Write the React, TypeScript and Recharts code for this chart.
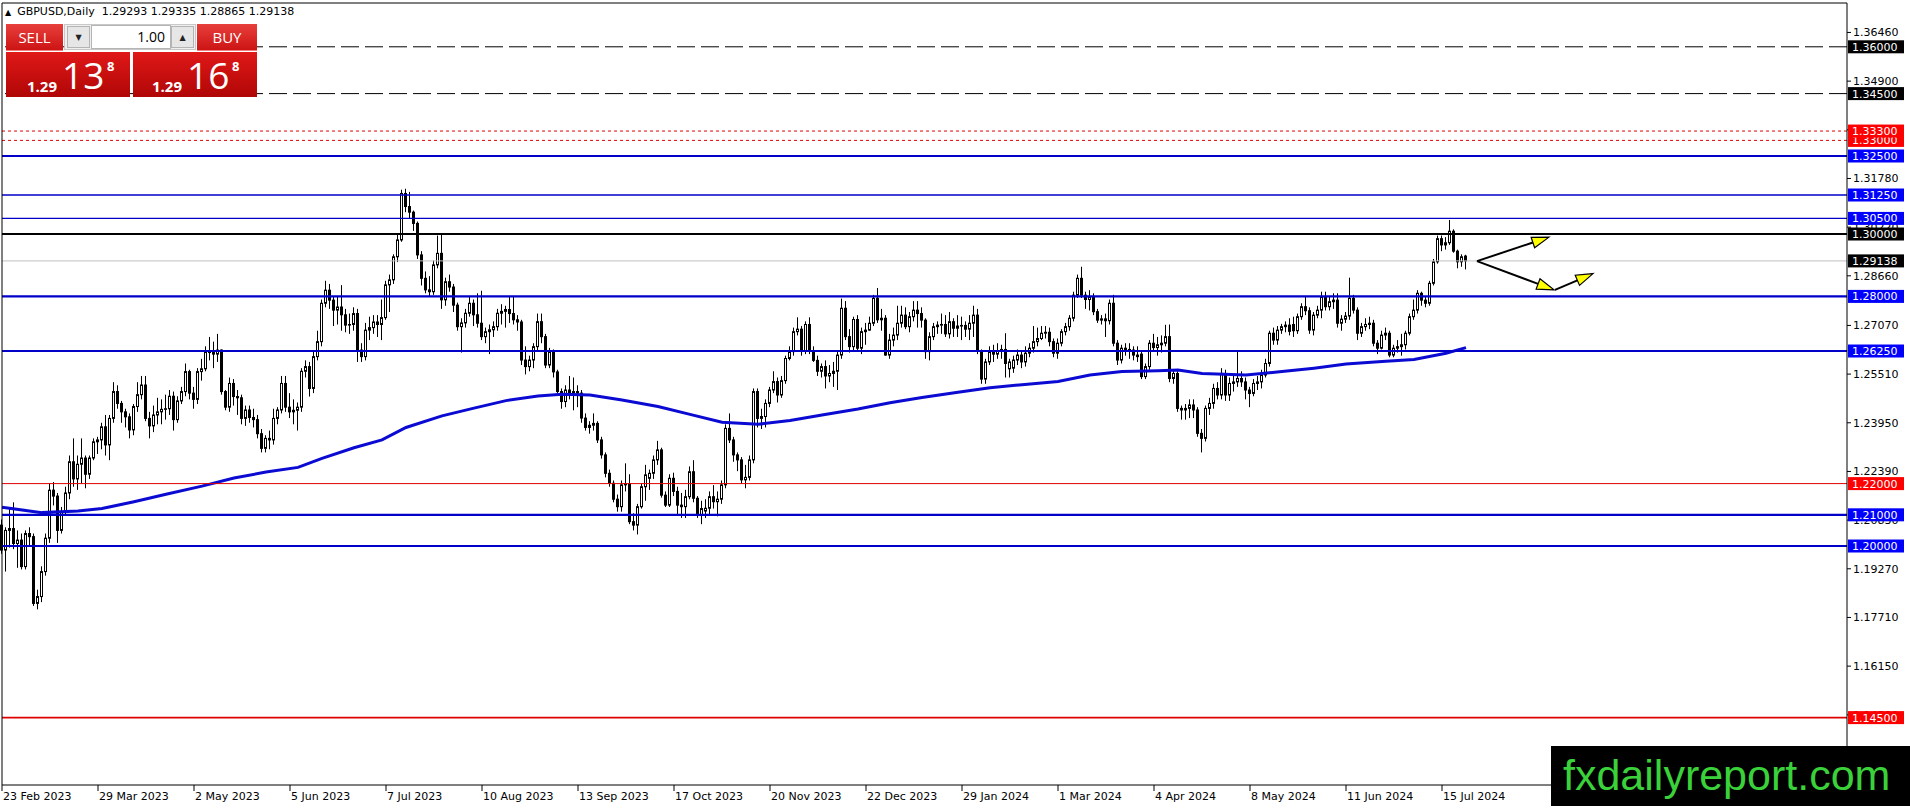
import React from "react";
import { ComposedChart, Bar, Line, XAxis, YAxis, ReferenceLine } from "recharts";

// GBPUSD daily candles, index 0 = 23 Feb 2023, index 366 = 23 Jul 2024
const opens = [
  1.2067, 1.1987, 1.2050, 1.2056, 1.2008, 1.2019, 1.1934, 1.2040, 1.2030, 1.1816,
  1.1838, 1.1918, 1.2025, 1.2179, 1.2160, 1.2050, 1.2110, 1.2170, 1.2270, 1.2215,
  1.2262, 1.2282, 1.2230, 1.2282, 1.2334, 1.2340, 1.2382, 1.2324, 1.2409, 1.2495,
  1.2457, 1.2430, 1.2414, 1.2372, 1.2447, 1.2485, 1.2516, 1.2409, 1.2385, 1.2420,
  1.2430, 1.2438, 1.2440, 1.2480, 1.2405, 1.2465, 1.2495, 1.2559, 1.2490, 1.2470,
  1.2559, 1.2568, 1.2623, 1.2620, 1.2615, 1.2628, 1.2495, 1.2445, 1.2521, 1.2479,
  1.2475, 1.2409, 1.2436, 1.2412, 1.2405, 1.2360, 1.2313, 1.2345, 1.2340, 1.2409,
  1.2436, 1.2521, 1.2445, 1.2430, 1.2435, 1.2445, 1.2560, 1.2575, 1.2505, 1.2607,
  1.2655, 1.2778, 1.2820, 1.2788, 1.2756, 1.2766, 1.2741, 1.2708, 1.2710, 1.2745,
  1.2628, 1.2607, 1.2692, 1.2700, 1.2718, 1.2710, 1.2732, 1.2837, 1.2853, 1.2927,
  1.2981, 1.3130, 1.3088, 1.3070, 1.3034, 1.2933, 1.2858, 1.2821, 1.2815, 1.2901,
  1.2938, 1.2789, 1.2847, 1.2830, 1.2772, 1.2703, 1.2715, 1.2746, 1.2778, 1.2741,
  1.2714, 1.2671, 1.2687, 1.2693, 1.2703, 1.2746, 1.2752, 1.2758, 1.2745, 1.2725,
  1.2718, 1.2596, 1.2575, 1.2596, 1.2639, 1.2719, 1.2671, 1.2580, 1.2622, 1.2558,
  1.2495, 1.2463, 1.2500, 1.2490, 1.2495, 1.2490, 1.2410, 1.2380, 1.2387, 1.2393,
  1.2340, 1.2292, 1.2233, 1.2201, 1.2150, 1.2126, 1.2196, 1.2200, 1.2078, 1.2067,
  1.2126, 1.2190, 1.2217, 1.2233, 1.2276, 1.2308, 1.2163, 1.2131, 1.2217, 1.2175,
  1.2131, 1.2126, 1.2158, 1.2238, 1.2153, 1.2099, 1.2112, 1.2121, 1.2158, 1.2142,
  1.2150, 1.2196, 1.2377, 1.2340, 1.2292, 1.2276, 1.2212, 1.2220, 1.2276, 1.2495,
  1.2409, 1.2415, 1.2457, 1.2500, 1.2527, 1.2484, 1.2530, 1.2601, 1.2623, 1.2687,
  1.2695, 1.2625, 1.2710, 1.2625, 1.2595, 1.2560, 1.2575, 1.2545, 1.2553, 1.2560,
  1.2612, 1.2762, 1.2671, 1.2639, 1.2726, 1.2634, 1.2687, 1.2692, 1.2714, 1.2794,
  1.2725, 1.2730, 1.2612, 1.2660, 1.2676, 1.2714, 1.2740, 1.2703, 1.2735, 1.2756,
  1.2745, 1.2724, 1.2623, 1.2671, 1.2703, 1.2708, 1.2710, 1.2680, 1.2719, 1.2698,
  1.2705, 1.2707, 1.2695, 1.2714, 1.2740, 1.2625, 1.2535, 1.2590, 1.2622, 1.2615,
  1.2625, 1.2630, 1.2568, 1.2570, 1.2596, 1.2612, 1.2590, 1.2618, 1.2634, 1.2655,
  1.2665, 1.2682, 1.2685, 1.2655, 1.2618, 1.2650, 1.2687, 1.2703, 1.2730, 1.2804,
  1.2858, 1.2804, 1.2790, 1.2799, 1.2751, 1.2724, 1.2728, 1.2722, 1.2778, 1.2650,
  1.2596, 1.2634, 1.2630, 1.2628, 1.2612, 1.2615, 1.2543, 1.2575, 1.2650, 1.2636,
  1.2645, 1.2650, 1.2671, 1.2537, 1.2553, 1.2441, 1.2436, 1.2441, 1.2452, 1.2436,
  1.2361, 1.2345, 1.2441, 1.2457, 1.2505, 1.2484, 1.2553, 1.2484, 1.2521, 1.2526,
  1.2537, 1.2526, 1.2500, 1.2489, 1.2521, 1.2526, 1.2548, 1.2585, 1.2682, 1.2660,
  1.2692, 1.2703, 1.2708, 1.2710, 1.2690, 1.2735, 1.2767, 1.2754, 1.2692, 1.2740,
  1.2756, 1.2799, 1.2767, 1.2783, 1.2788, 1.2714, 1.2727, 1.2737, 1.2794, 1.2756,
  1.2682, 1.2703, 1.2710, 1.2714, 1.2650, 1.2634, 1.2676, 1.2682, 1.2612, 1.2634,
  1.2639, 1.2645, 1.2682, 1.2735, 1.2756, 1.2810, 1.2788, 1.2778, 1.2842, 1.2911,
  1.2985, 1.2965, 1.2972, 1.3009, 1.2945, 1.2911, 1.29293,
];

const highs = [
  1.2085, 1.2060, 1.2120, 1.2140, 1.2050, 1.2040, 1.2050, 1.2060, 1.2040, 1.1860,
  1.1935, 1.2040, 1.2200, 1.2205, 1.2170, 1.2125, 1.2190, 1.2290, 1.2345, 1.2290,
  1.2345, 1.2290, 1.2290, 1.2345, 1.2350, 1.2395, 1.2420, 1.2420, 1.2525, 1.2515,
  1.2465, 1.2440, 1.2425, 1.2455, 1.2525, 1.2545, 1.2545, 1.2430, 1.2450, 1.2475,
  1.2470, 1.2485, 1.2500, 1.2495, 1.2480, 1.2510, 1.2585, 1.2565, 1.2510, 1.2570,
  1.2600, 1.2640, 1.2670, 1.2655, 1.2680, 1.2630, 1.2500, 1.2540, 1.2535, 1.2500,
  1.2485, 1.2450, 1.2450, 1.2440, 1.2420, 1.2375, 1.2355, 1.2370, 1.2440, 1.2445,
  1.2545, 1.2545, 1.2490, 1.2470, 1.2460, 1.2570, 1.2595, 1.2590, 1.2625, 1.2690,
  1.2790, 1.2850, 1.2840, 1.2800, 1.2800, 1.2836, 1.2760, 1.2745, 1.2765, 1.2760,
  1.2650, 1.2715, 1.2735, 1.2740, 1.2740, 1.2790, 1.2850, 1.2870, 1.2935, 1.3000,
  1.3142, 1.3145, 1.3135, 1.3075, 1.3040, 1.2945, 1.2880, 1.2865, 1.2915, 1.2995,
  1.3000, 1.2860, 1.2870, 1.2840, 1.2780, 1.2730, 1.2760, 1.2800, 1.2790, 1.2810,
  1.2818, 1.2700, 1.2710, 1.2720, 1.2760, 1.2775, 1.2770, 1.2799, 1.2800, 1.2740,
  1.2725, 1.2640, 1.2610, 1.2650, 1.2745, 1.2745, 1.2680, 1.2635, 1.2630, 1.2565,
  1.2505, 1.2515, 1.2545, 1.2540, 1.2515, 1.2500, 1.2425, 1.2400, 1.2425, 1.2400,
  1.2350, 1.2300, 1.2245, 1.2210, 1.2165, 1.2210, 1.2265, 1.2230, 1.2105, 1.2135,
  1.2200, 1.2260, 1.2245, 1.2290, 1.2337, 1.2315, 1.2175, 1.2230, 1.2235, 1.2190,
  1.2170, 1.2180, 1.2255, 1.2275, 1.2160, 1.2145, 1.2150, 1.2175, 1.2195, 1.2175,
  1.2210, 1.2390, 1.2425, 1.2350, 1.2300, 1.2285, 1.2260, 1.2290, 1.2505, 1.2505,
  1.2440, 1.2470, 1.2510, 1.2560, 1.2540, 1.2545, 1.2610, 1.2640, 1.2700, 1.2733,
  1.2705, 1.2720, 1.2733, 1.2640, 1.2610, 1.2585, 1.2595, 1.2580, 1.2590, 1.2625,
  1.2793, 1.2785, 1.2695, 1.2735, 1.2740, 1.2700, 1.2715, 1.2735, 1.2805, 1.2827,
  1.2760, 1.2740, 1.2680, 1.2700, 1.2770, 1.2770, 1.2765, 1.2750, 1.2785, 1.2785,
  1.2765, 1.2730, 1.2685, 1.2715, 1.2720, 1.2745, 1.2740, 1.2750, 1.2730, 1.2740,
  1.2735, 1.2720, 1.2740, 1.2770, 1.2760, 1.2630, 1.2600, 1.2640, 1.2645, 1.2650,
  1.2645, 1.2682, 1.2600, 1.2610, 1.2630, 1.2625, 1.2640, 1.2650, 1.2705, 1.2700,
  1.2705, 1.2705, 1.2700, 1.2665, 1.2665, 1.2695, 1.2715, 1.2740, 1.2815, 1.2870,
  1.2895, 1.2815, 1.2820, 1.2810, 1.2760, 1.2740, 1.2745, 1.2790, 1.2805, 1.2660,
  1.2645, 1.2650, 1.2650, 1.2640, 1.2640, 1.2625, 1.2585, 1.2660, 1.2680, 1.2670,
  1.2675, 1.2709, 1.2710, 1.2565, 1.2560, 1.2450, 1.2455, 1.2470, 1.2470, 1.2445,
  1.2375, 1.2450, 1.2475, 1.2520, 1.2525, 1.2570, 1.2565, 1.2540, 1.2545, 1.2628,
  1.2560, 1.2540, 1.2510, 1.2535, 1.2545, 1.2565, 1.2600, 1.2690, 1.2700, 1.2705,
  1.2712, 1.2720, 1.2730, 1.2735, 1.2745, 1.2778, 1.2800, 1.2765, 1.2750, 1.2770,
  1.2815, 1.2815, 1.2800, 1.2810, 1.2810, 1.2740, 1.2750, 1.2860, 1.2805, 1.2765,
  1.2715, 1.2730, 1.2735, 1.2725, 1.2660, 1.2690, 1.2700, 1.2690, 1.2645, 1.2660,
  1.2680, 1.2690, 1.2745, 1.2790, 1.2820, 1.2815, 1.2800, 1.2850, 1.2920, 1.2995,
  1.2995, 1.2990, 1.3045, 1.3015, 1.2950, 1.2935, 1.29335,
];

const lows = [
  1.1975, 1.1918, 1.1995, 1.1990, 1.1930, 1.1925, 1.1925, 1.2000, 1.1808, 1.1797,
  1.1820, 1.1905, 1.2010, 1.2130, 1.2010, 1.2040, 1.2100, 1.2150, 1.2190, 1.2180,
  1.2200, 1.2185, 1.2215, 1.2275, 1.2295, 1.2310, 1.2290, 1.2275, 1.2395, 1.2440,
  1.2395, 1.2380, 1.2345, 1.2355, 1.2430, 1.2470, 1.2400, 1.2345, 1.2365, 1.2390,
  1.2390, 1.2405, 1.2420, 1.2370, 1.2395, 1.2455, 1.2480, 1.2470, 1.2440, 1.2455,
  1.2530, 1.2560, 1.2595, 1.2570, 1.2590, 1.2485, 1.2435, 1.2430, 1.2450, 1.2420,
  1.2390, 1.2385, 1.2395, 1.2380, 1.2345, 1.2300, 1.2300, 1.2310, 1.2325, 1.2390,
  1.2425, 1.2430, 1.2410, 1.2390, 1.2370, 1.2430, 1.2540, 1.2479, 1.2490, 1.2595,
  1.2640, 1.2765, 1.2760, 1.2705, 1.2710, 1.2690, 1.2685, 1.2680, 1.2690, 1.2590,
  1.2590, 1.2595, 1.2660, 1.2680, 1.2670, 1.2660, 1.2725, 1.2750, 1.2840, 1.2910,
  1.2975, 1.3070, 1.3050, 1.3010, 1.2920, 1.2835, 1.2810, 1.2800, 1.2805, 1.2890,
  1.2760, 1.2770, 1.2815, 1.2750, 1.2690, 1.2620, 1.2700, 1.2735, 1.2705, 1.2700,
  1.2660, 1.2650, 1.2615, 1.2670, 1.2690, 1.2710, 1.2700, 1.2715, 1.2710, 1.2690,
  1.2580, 1.2550, 1.2560, 1.2570, 1.2625, 1.2650, 1.2570, 1.2570, 1.2540, 1.2490,
  1.2440, 1.2445, 1.2470, 1.2435, 1.2445, 1.2395, 1.2370, 1.2360, 1.2370, 1.2330,
  1.2280, 1.2220, 1.2190, 1.2140, 1.2110, 1.2110, 1.2175, 1.2070, 1.2050, 1.2037,
  1.2120, 1.2145, 1.2180, 1.2215, 1.2260, 1.2155, 1.2125, 1.2125, 1.2160, 1.2100,
  1.2090, 1.2090, 1.2150, 1.2140, 1.2090, 1.2070, 1.2090, 1.2100, 1.2120, 1.2095,
  1.2135, 1.2185, 1.2330, 1.2270, 1.2240, 1.2200, 1.2185, 1.2210, 1.2265, 1.2380,
  1.2375, 1.2380, 1.2445, 1.2490, 1.2460, 1.2475, 1.2520, 1.2595, 1.2610, 1.2675,
  1.2610, 1.2615, 1.2615, 1.2590, 1.2545, 1.2540, 1.2505, 1.2525, 1.2510, 1.2500,
  1.2600, 1.2660, 1.2620, 1.2625, 1.2625, 1.2615, 1.2645, 1.2690, 1.2705, 1.2715,
  1.2690, 1.2610, 1.2600, 1.2640, 1.2660, 1.2700, 1.2695, 1.2685, 1.2720, 1.2700,
  1.2700, 1.2600, 1.2595, 1.2660, 1.2680, 1.2680, 1.2670, 1.2665, 1.2670, 1.2670,
  1.2660, 1.2670, 1.2660, 1.2670, 1.2615, 1.2520, 1.2520, 1.2580, 1.2590, 1.2600,
  1.2600, 1.2540, 1.2540, 1.2555, 1.2580, 1.2570, 1.2575, 1.2605, 1.2620, 1.2640,
  1.2660, 1.2665, 1.2640, 1.2605, 1.2600, 1.2640, 1.2675, 1.2690, 1.2720, 1.2795,
  1.2795, 1.2760, 1.2755, 1.2740, 1.2715, 1.2710, 1.2670, 1.2710, 1.2640, 1.2580,
  1.2585, 1.2610, 1.2600, 1.2595, 1.2590, 1.2535, 1.2535, 1.2565, 1.2625, 1.2610,
  1.2620, 1.2640, 1.2525, 1.2520, 1.2430, 1.2405, 1.2405, 1.2410, 1.2410, 1.2350,
  1.2300, 1.2335, 1.2420, 1.2440, 1.2470, 1.2470, 1.2465, 1.2465, 1.2495, 1.2510,
  1.2510, 1.2470, 1.2445, 1.2480, 1.2500, 1.2505, 1.2540, 1.2575, 1.2645, 1.2645,
  1.2680, 1.2685, 1.2675, 1.2670, 1.2680, 1.2725, 1.2740, 1.2680, 1.2675, 1.2730,
  1.2730, 1.2755, 1.2755, 1.2760, 1.2700, 1.2690, 1.2715, 1.2725, 1.2745, 1.2660,
  1.2670, 1.2690, 1.2695, 1.2640, 1.2615, 1.2630, 1.2660, 1.2605, 1.2605, 1.2620,
  1.2610, 1.2630, 1.2675, 1.2725, 1.2745, 1.2770, 1.2765, 1.2770, 1.2835, 1.2905,
  1.2945, 1.2950, 1.2965, 1.2940, 1.2890, 1.2895, 1.28865,
];

const closes = [
  1.1987, 1.2050, 1.2056, 1.2008, 1.2019, 1.1934, 1.2040, 1.2030, 1.1816, 1.1838,
  1.1918, 1.2025, 1.2179, 1.2160, 1.2050, 1.2110, 1.2170, 1.2270, 1.2215, 1.2262,
  1.2282, 1.2230, 1.2282, 1.2334, 1.2340, 1.2382, 1.2324, 1.2409, 1.2495, 1.2457,
  1.2430, 1.2414, 1.2372, 1.2447, 1.2485, 1.2516, 1.2409, 1.2385, 1.2420, 1.2430,
  1.2438, 1.2440, 1.2480, 1.2405, 1.2465, 1.2495, 1.2559, 1.2490, 1.2470, 1.2559,
  1.2568, 1.2623, 1.2620, 1.2615, 1.2628, 1.2495, 1.2445, 1.2521, 1.2479, 1.2475,
  1.2409, 1.2436, 1.2412, 1.2405, 1.2360, 1.2313, 1.2345, 1.2340, 1.2409, 1.2436,
  1.2521, 1.2445, 1.2430, 1.2435, 1.2445, 1.2560, 1.2575, 1.2505, 1.2607, 1.2655,
  1.2778, 1.2820, 1.2788, 1.2756, 1.2766, 1.2741, 1.2708, 1.2710, 1.2745, 1.2628,
  1.2607, 1.2692, 1.2700, 1.2718, 1.2710, 1.2732, 1.2837, 1.2853, 1.2927, 1.2981,
  1.3130, 1.3088, 1.3070, 1.3034, 1.2933, 1.2858, 1.2821, 1.2815, 1.2901, 1.2938,
  1.2789, 1.2847, 1.2830, 1.2772, 1.2703, 1.2715, 1.2746, 1.2778, 1.2741, 1.2714,
  1.2671, 1.2687, 1.2693, 1.2703, 1.2746, 1.2752, 1.2758, 1.2745, 1.2725, 1.2718,
  1.2596, 1.2575, 1.2596, 1.2639, 1.2719, 1.2671, 1.2580, 1.2622, 1.2558, 1.2495,
  1.2463, 1.2500, 1.2490, 1.2495, 1.2490, 1.2410, 1.2380, 1.2387, 1.2393, 1.2340,
  1.2292, 1.2233, 1.2201, 1.2150, 1.2126, 1.2196, 1.2200, 1.2078, 1.2067, 1.2126,
  1.2190, 1.2228, 1.2233, 1.2276, 1.2308, 1.2163, 1.2131, 1.2217, 1.2175, 1.2131,
  1.2126, 1.2158, 1.2238, 1.2153, 1.2099, 1.2120, 1.2121, 1.2158, 1.2142, 1.2150,
  1.2196, 1.2377, 1.2340, 1.2292, 1.2276, 1.2212, 1.2220, 1.2276, 1.2495, 1.2409,
  1.2415, 1.2457, 1.2500, 1.2527, 1.2484, 1.2530, 1.2601, 1.2623, 1.2687, 1.2695,
  1.2625, 1.2710, 1.2625, 1.2595, 1.2560, 1.2575, 1.2545, 1.2553, 1.2560, 1.2612,
  1.2762, 1.2671, 1.2639, 1.2726, 1.2634, 1.2687, 1.2692, 1.2714, 1.2794, 1.2725,
  1.2730, 1.2612, 1.2660, 1.2676, 1.2714, 1.2740, 1.2703, 1.2735, 1.2756, 1.2745,
  1.2724, 1.2623, 1.2671, 1.2703, 1.2708, 1.2710, 1.2680, 1.2719, 1.2698, 1.2705,
  1.2707, 1.2695, 1.2714, 1.2740, 1.2625, 1.2535, 1.2590, 1.2622, 1.2615, 1.2625,
  1.2630, 1.2585, 1.2590, 1.2596, 1.2612, 1.2590, 1.2618, 1.2634, 1.2655, 1.2665,
  1.2682, 1.2685, 1.2655, 1.2618, 1.2650, 1.2687, 1.2703, 1.2730, 1.2804, 1.2858,
  1.2804, 1.2790, 1.2799, 1.2751, 1.2724, 1.2728, 1.2722, 1.2778, 1.2650, 1.2596,
  1.2634, 1.2630, 1.2628, 1.2612, 1.2607, 1.2543, 1.2575, 1.2650, 1.2636, 1.2645,
  1.2650, 1.2671, 1.2537, 1.2553, 1.2441, 1.2436, 1.2441, 1.2452, 1.2436, 1.2361,
  1.2345, 1.2441, 1.2457, 1.2505, 1.2484, 1.2553, 1.2484, 1.2521, 1.2526, 1.2537,
  1.2526, 1.2500, 1.2489, 1.2521, 1.2526, 1.2548, 1.2585, 1.2682, 1.2660, 1.2692,
  1.2703, 1.2708, 1.2688, 1.2690, 1.2735, 1.2767, 1.2754, 1.2692, 1.2740, 1.2756,
  1.2799, 1.2767, 1.2783, 1.2788, 1.2714, 1.2727, 1.2737, 1.2794, 1.2756, 1.2682,
  1.2703, 1.2710, 1.2714, 1.2650, 1.2634, 1.2676, 1.2682, 1.2612, 1.2634, 1.2639,
  1.2645, 1.2682, 1.2735, 1.2756, 1.2810, 1.2788, 1.2778, 1.2842, 1.2911, 1.2985,
  1.2965, 1.2972, 1.3009, 1.2945, 1.2911, 1.2927, 1.29138,
];

// moving average (thick blue), read at sample bars
const maIdx = [
  0, 10, 19, 25, 33, 41, 50, 58, 66, 74, 80, 88, 95, 101, 110, 118, 126, 134, 140, 147,
  155, 164, 172, 180, 189, 197, 205, 214, 222, 230, 239, 247, 255, 264, 272, 280, 289, 294,
  300, 311, 320, 328, 336, 345, 353, 361, 366,
];
const maVal = [
  1.2124, 1.2107, 1.2112, 1.2120, 1.2142, 1.2166, 1.2192, 1.2218, 1.2237, 1.2252, 1.2281,
  1.2315, 1.2340, 1.2380, 1.2417, 1.2442, 1.2466, 1.2481, 1.2486, 1.2484, 1.2468, 1.2447,
  1.2422, 1.2397, 1.2390, 1.2402, 1.2420, 1.2439, 1.2459, 1.2476, 1.2493, 1.2507, 1.2517,
  1.2527, 1.2548, 1.2559, 1.2562, 1.2564, 1.2553, 1.2548, 1.2559, 1.2570, 1.2583, 1.2591,
  1.2598, 1.2618, 1.2636,
];

// x-axis labels
const dateTicks = [0, 24, 48, 72, 96, 120, 144, 168, 192, 216, 240, 264, 288, 312, 336, 360];
const dateLabels = [
  "23 Feb 2023", "29 Mar 2023", "2 May 2023", "5 Jun 2023", "7 Jul 2023", "10 Aug 2023",
  "13 Sep 2023", "17 Oct 2023", "20 Nov 2023", "22 Dec 2023", "29 Jan 2024", "1 Mar 2024",
  "4 Apr 2024", "8 May 2024", "11 Jun 2024", "15 Jul 2024",
];

// price scale labels
const priceTicks = [
  1.3646, 1.349, 1.3334, 1.3178, 1.3022, 1.2866, 1.2707, 1.2551, 1.2395, 1.2239, 1.2083,
  1.1927, 1.1771, 1.1615, 1.1459,
];

// horizontal levels
const dashedLevels = [1.36, 1.345];
const dottedRedLevels = [1.33, 1.333];
const solidRedLevels = [1.22, 1.145];
const blueLevels = [1.325, 1.3125, 1.305, 1.28, 1.2625, 1.21, 1.2];
const thinBlueLevels = [1.3125, 1.305];
const pivotLevel = 1.3;
const lastPrice = 1.29138;

// drawn arrows: start x, start y, end x, end y (bar index / price)
const arrowX0 = [368.75, 368.75, 388.25];
const arrowY0 = [1.2913, 1.2913, 1.2821];
const arrowX1 = [386.75, 388.0, 397.75];
const arrowY1 = [1.299, 1.2821, 1.2873];

const W = 1910;
const H = 809;
const PLOT_RIGHT = 1847;
const Y_MIN = 1.1234;
const Y_MAX = 1.37404;
const FONT = "'DejaVu Sans', Tahoma, sans-serif";
const BLUE = "#0000c8";

const candles = closes.map((c, i) => ({
  i,
  o: opens[i],
  h: highs[i],
  l: lows[i],
  c,
  hl: [lows[i], highs[i]],
}));
const maData = maIdx.map((i, k) => ({ i, ma: maVal[k] }));

const boxColor = (v: number) => {
  if (v === pivotLevel || v === lastPrice || dashedLevels.includes(v)) return "#000";
  if (dottedRedLevels.includes(v) || solidRedLevels.includes(v)) return "#ff0000";
  return "#0000ff";
};
const boxTicks = [
  ...dashedLevels,
  ...dottedRedLevels,
  ...blueLevels,
  pivotLevel,
  lastPrice,
  ...solidRedLevels,
];
const isBox = (v: number) => boxTicks.includes(v);

function Candle(props: any) {
  const { x, y, width, height, payload } = props;
  if (!payload || !isFinite(y) || !isFinite(height)) return null;
  const top = Math.min(y, y + height);
  const bottom = Math.max(y, y + height);
  const span = payload.h - payload.l;
  const py = (p: number) => (span > 0 ? top + ((payload.h - p) / span) * (bottom - top) : top);
  const cx = Math.floor(x + width / 2) + 0.5;
  const yo = py(payload.o);
  const yc = py(payload.c);
  const bTop = Math.min(yo, yc);
  const bBot = Math.max(yo, yc);
  const up = payload.c >= payload.o;
  return (
    <g>
      <line x1={cx} x2={cx} y1={top} y2={bottom} stroke="#000" strokeWidth={1} />
      <rect
        x={cx - 1}
        y={bTop}
        width={2}
        height={Math.max(bBot - bTop, 0.01)}
        fill={up ? "#fff" : "#000"}
        stroke="#000"
        strokeWidth={1}
      />
    </g>
  );
}

function PriceTick(props: any) {
  const { y, payload } = props;
  const v = payload.value as number;
  const txt = v.toFixed(5);
  if (isBox(v)) {
    return (
      <g>
        <rect x={PLOT_RIGHT + 1} y={y - 6.5} width={56} height={13} fill={boxColor(v)} />
        <text x={PLOT_RIGHT + 5} y={y + 4} fill="#fff" fontSize={11} fontFamily={FONT}>
          {txt}
        </text>
      </g>
    );
  }
  return (
    <g>
      <line x1={PLOT_RIGHT} x2={PLOT_RIGHT + 4} y1={y} y2={y} stroke="#000" />
      <text x={PLOT_RIGHT + 6} y={y + 4} fill="#000" fontSize={11} fontFamily={FONT}>
        {txt}
      </text>
    </g>
  );
}

function DateTick(props: any) {
  const { x, y, payload } = props;
  const k = dateTicks.indexOf(payload.value);
  return (
    <g>
      <line x1={x} x2={x} y1={y - 8} y2={y - 2} stroke="#000" />
      <text x={x + 1} y={y + 7} fill="#000" fontSize={11} fontFamily={FONT}>
        {dateLabels[k]}
      </text>
    </g>
  );
}

function Arrow(props: any) {
  const { x1, y1, x2, y2 } = props;
  if (![x1, y1, x2, y2].every((n) => isFinite(n))) return null;
  const dx = x2 - x1;
  const dy = y2 - y1;
  const len = Math.hypot(dx, dy) || 1;
  const ux = dx / len;
  const uy = dy / len;
  const L = 17;
  const Wd = 5.5;
  const bx = x2 - ux * L;
  const by = y2 - uy * L;
  const pts = `${x2},${y2} ${bx - uy * Wd},${by + ux * Wd} ${bx + uy * Wd},${by - ux * Wd}`;
  return (
    <g>
      <line x1={x1} y1={y1} x2={bx} y2={by} stroke="#000" strokeWidth={2} />
      <polygon points={pts} fill="#ffff00" stroke="#000" strokeWidth={1.2} />
    </g>
  );
}

function TradePanel() {
  const red = "linear-gradient(#e8403c, #cc1414)";
  const deep = "linear-gradient(#e01818, #b00606)";
  const btn: React.CSSProperties = {
    position: "absolute",
    top: 24,
    height: 27,
    background: red,
    color: "#fff",
    fontFamily: "'Open Sans', sans-serif",
    fontSize: 15,
    display: "flex",
    alignItems: "center",
    justifyContent: "center",
    borderBottom: "1px solid #f08080",
    boxSizing: "border-box",
  };
  const big: React.CSSProperties = {
    position: "absolute",
    top: 52,
    height: 45,
    width: 124,
    background: deep,
    color: "#fff",
    fontFamily: "'Open Sans', sans-serif",
  };
  const arrowBtn: React.CSSProperties = {
    position: "absolute",
    top: 26,
    width: 23,
    height: 22,
    background: "#e6e6e6",
    border: "1px solid #b4b4b4",
    boxSizing: "border-box",
    fontSize: 8,
    display: "flex",
    alignItems: "center",
    justifyContent: "center",
    color: "#222",
  };
  const priceParts = (x0: number, big2: string) => (
    <>
      <span style={{ position: "absolute", left: x0, top: 24, fontSize: 15, fontWeight: 700 }}>1.29</span>
      <span style={{ position: "absolute", left: x0 + 35, top: -3, fontSize: 37, fontWeight: 400 }}>{big2}</span>
      <span style={{ position: "absolute", left: x0 + 80, top: 5, fontSize: 13, fontWeight: 700 }}>8</span>
    </>
  );
  return (
    <>
      <div
        style={{
          position: "absolute",
          left: 5,
          top: 5,
          fontFamily: FONT,
          fontSize: 11,
          color: "#000",
          whiteSpace: "pre",
        }}
      >
        <span style={{ fontSize: 8, marginRight: 6 }}>▲</span>GBPUSD,Daily  1.29293 1.29335 1.28865 1.29138
      </div>
      <div style={{ ...btn, left: 6, width: 57 }}>SELL</div>
      <div
        style={{
          position: "absolute",
          left: 64,
          top: 24,
          width: 132,
          height: 26,
          background: "#efefef",
          border: "1px solid #c8c8c8",
          boxSizing: "border-box",
        }}
      />
      <div style={{ ...arrowBtn, left: 67 }}>▼</div>
      <div
        style={{
          position: "absolute",
          left: 91,
          top: 25,
          width: 80,
          height: 24,
          background: "#fff",
          border: "1px solid #b4b4b4",
          boxSizing: "border-box",
          fontFamily: "'Open Sans', sans-serif",
          fontSize: 14,
          textAlign: "right",
          paddingRight: 5,
          lineHeight: "22px",
          color: "#000",
        }}
      >
        1.00
      </div>
      <div style={{ ...arrowBtn, left: 171 }}>▲</div>
      <div style={{ ...btn, left: 197, width: 60 }}>BUY</div>
      <div style={{ ...big, left: 6 }}>{priceParts(21, "13")}</div>
      <div style={{ ...big, left: 133 }}>{priceParts(19, "16")}</div>
    </>
  );
}

export default function App() {
  return (
    <div
      style={{
        position: "absolute",
        left: 0,
        top: 0,
        width: W,
        height: H,
        background: "#fff",
        overflow: "hidden",
        fontFamily: FONT,
      }}
    >
      <ComposedChart
        width={W}
        height={H}
        data={candles}
        margin={{ top: 3, right: 0, bottom: 0, left: 2 }}
      >
        <XAxis
          dataKey="i"
          type="number"
          domain={[0, 461.25]}
          ticks={dateTicks}
          interval={0}
          height={24}
          tickLine={false}
          axisLine={{ stroke: "#000" }}
          tick={<DateTick />}
        />
        <YAxis
          orientation="right"
          type="number"
          domain={[Y_MIN, Y_MAX]}
          allowDataOverflow
          width={63}
          ticks={[...priceTicks, ...boxTicks]}
          interval={0}
          tickLine={false}
          axisLine={{ stroke: "#000" }}
          tick={<PriceTick />}
        />
        <Bar
          dataKey="hl"
          barSize={3}
          isAnimationActive={false}
          shape={(p: any) => <Candle {...p} />}
        />
        <Line
          data={maData}
          dataKey="ma"
          stroke="#0a0ad2"
          strokeWidth={3}
          dot={false}
          activeDot={false}
          isAnimationActive={false}
        />
        {dashedLevels.map((v) => (
          <ReferenceLine key={`d${v}`} y={v} stroke="#000" strokeWidth={1} strokeDasharray="18 6" />
        ))}
        {dottedRedLevels.map((v) => (
          <ReferenceLine key={`r${v}`} y={v} stroke="#e00000" strokeWidth={1} strokeDasharray="3 3" />
        ))}
        {blueLevels.map((v) => (
          <ReferenceLine
            key={`b${v}`}
            y={v}
            stroke={BLUE}
            strokeWidth={thinBlueLevels.includes(v) ? 1.3 : 2.2}
          />
        ))}
        {solidRedLevels.map((v, k) => (
          <ReferenceLine key={`s${v}`} y={v} stroke="#e00000" strokeWidth={k === 0 ? 1 : 1.6} />
        ))}
        <ReferenceLine y={pivotLevel} stroke="#000" strokeWidth={2} />
        <ReferenceLine y={lastPrice} stroke="#c0c0c0" strokeWidth={1} />
        <ReferenceLine y={Y_MAX} stroke="#000" strokeWidth={1} />
        <ReferenceLine x={0} stroke="#000" strokeWidth={1} />
        {arrowX0.map((x0, k) => (
          <ReferenceLine
            key={`a${k}`}
            segment={[
              { x: x0, y: arrowY0[k] },
              { x: arrowX1[k], y: arrowY1[k] },
            ]}
            stroke="#000"
            shape={(p: any) => <Arrow {...p} />}
          />
        ))}
      </ComposedChart>
      <TradePanel />
      <div
        style={{
          position: "absolute",
          left: 1551,
          top: 746,
          width: 359,
          height: 60,
          background: "#000",
          color: "#3ad13a",
          fontFamily: "'Liberation Sans', Arial, sans-serif",
          fontSize: 43,
          lineHeight: "58px",
          paddingLeft: 12,
          boxSizing: "border-box",
        }}
      >
        fxdailyreport.com
      </div>
    </div>
  );
}
